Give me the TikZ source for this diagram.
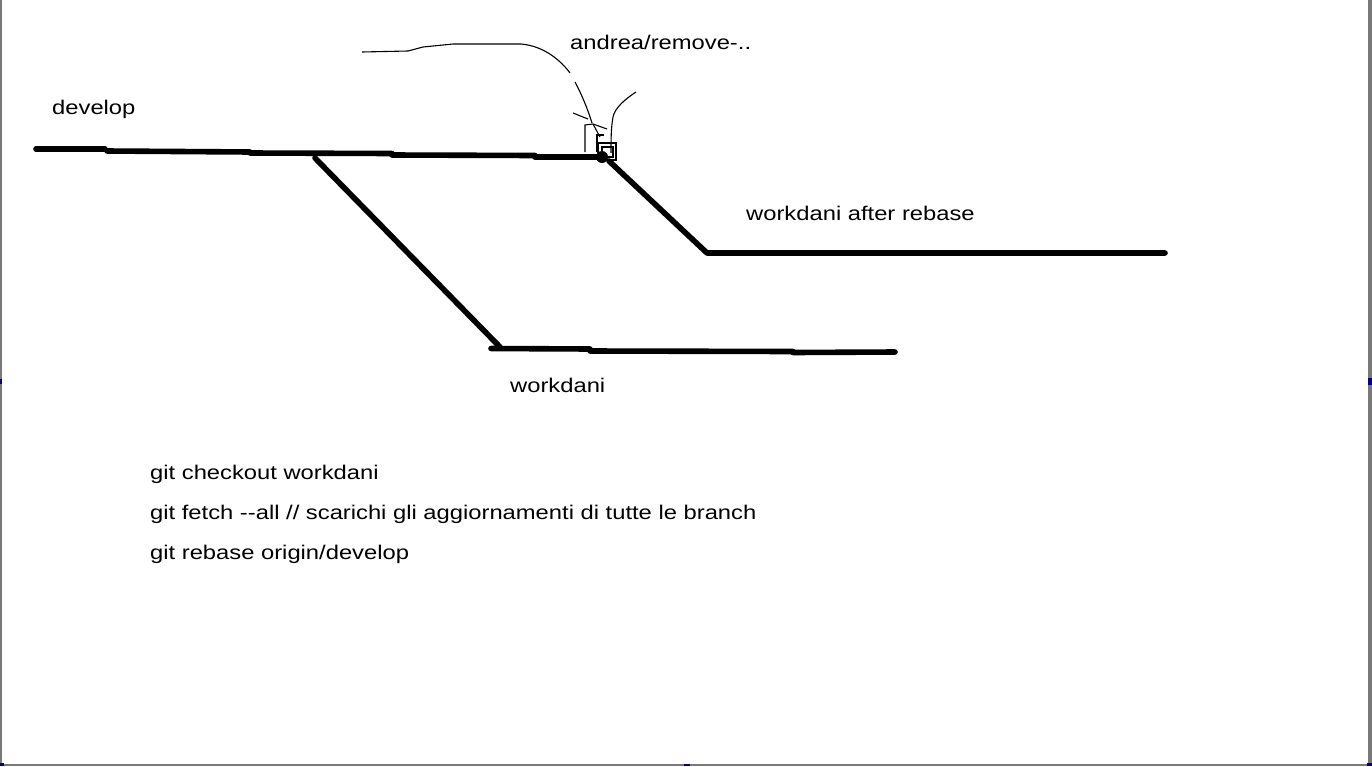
\documentclass[tikz,border=0pt]{standalone}
\usepackage{fontspec}
\setmainfont{Liberation Sans}
\tikzset{
  branch/.style={line width=5.6pt, line cap=round, line join=round, black},
  pen/.style={line width=1.1pt, black, line cap=butt},
  lbl/.style={anchor=base west, inner sep=0pt, font=\fontsize{19.8}{23}\selectfont},
  frameline/.style={fill=gray!95!black},
  handle/.style={fill=blue!50!black}
}
\newcommand{\wide}[1]{\scalebox{1.2}[1]{#1}}
\begin{document}
\begin{tikzpicture}[x=1pt,y=-1pt]
\useasboundingbox (0,0) rectangle (1372,766);
\fill[white] (0,0) rectangle (1372,766);
% frame
\fill[frameline] (0,0) rectangle (2,766);
\fill[frameline] (1368,0) rectangle (1372,766);
\fill[frameline] (0,764) rectangle (1372,766);
\fill[handle] (1368,378) rectangle (1372,385);
\fill[handle] (0,379) rectangle (2,384);
\fill[handle] (684,764) rectangle (690,766);
\fill[handle] (1367,763) rectangle (1372,766);
\fill[handle] (0,763) rectangle (4,766);

% coordinates
\coordinate (d0) at (36,149);
\coordinate (fork) at (315,158);
\coordinate (tip) at (600,157);
\coordinate (w0) at (500,347);
\coordinate (w1) at (895,352);
\coordinate (r0) at (707,253);
\coordinate (r1) at (1165,253);

% develop
\draw[branch] (d0) -- (105,149);
\draw[branch] (107,151) -- (250,152);
\draw[branch] (250,153) -- (392,153.5);
\draw[branch] (392,155) -- (535,155.5);
\draw[branch] (535,157) -- (tip);
\fill (602,157) circle (6pt);

% workdani
\draw[branch] (fork) -- (w0);
\draw[branch] (491,348.5) -- (590,349);
\draw[branch] (590,351) -- (793,351.5);
\draw[branch] (793,352.5) -- (w1);

% workdani after rebase
\draw[branch] (609,161) -- (r0) -- (r1);

% hand-drawn annotation
\draw[pen] (362,52) -- (408,51) -- (423,47) -- (453,44) -- (521,44)
  .. controls (545,46) and (562,62) .. (570,73);
\draw[pen] (575,82) .. controls (582,95) and (588,110) .. (592,123);
\draw[pen] (573,113) -- (588,119);
\draw[pen] (585,152) -- (585,125) -- (593,124) -- (607,129);
\draw[pen] (593,124) -- (600,137);
\draw[pen] (597,152) -- (597,135) -- (604,135);
\draw[pen] (636,92) .. controls (624,100) and (615,108) .. (613,117)
  .. controls (611,128) and (611,140) .. (611,153);
\draw[pen] (598,143) rectangle (616,160);
\draw[pen] (602,147) rectangle (613,157);

% labels
\node[lbl] (ldev) at (52,114) {\wide{develop}};
\node[lbl] (land) at (570,49) {\wide{andrea/remove-..}};
\node[lbl] (lreb) at (746,220) {\wide{workdani after rebase}};
\node[lbl] (lwd) at (510,392) {\wide{workdani}};
\node[lbl] (g1) at (150,479) {\wide{git checkout workdani}};
\node[lbl] (g2) at (150,519) {\wide{git fetch -{}-all // scarichi gli aggiornamenti di tutte le branch}};
\node[lbl] (g3) at (150,559) {\wide{git rebase origin/develop}};
\end{tikzpicture}
\end{document}
